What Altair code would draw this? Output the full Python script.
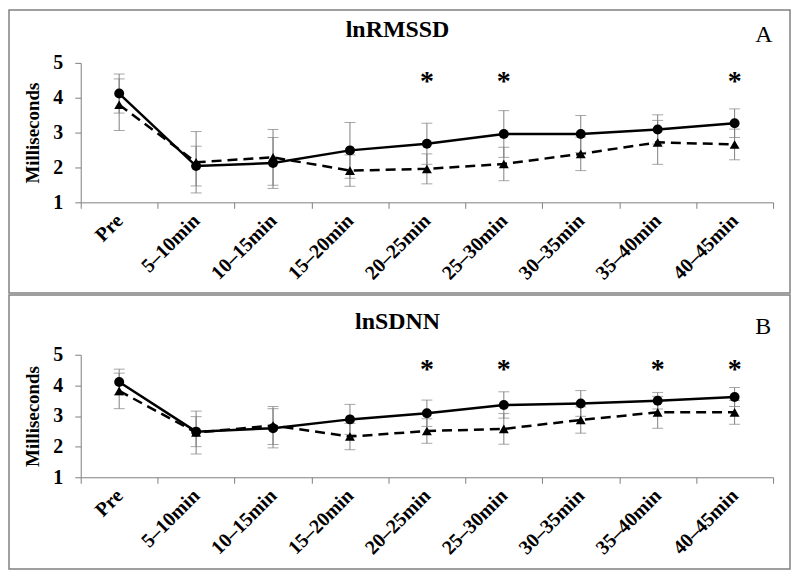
import altair as alt
import pandas as pd

CATS = ["Pre", "5–10min", "10–15min", "15–20min", "20–25min",
        "25–30min", "30–35min", "35–40min", "40–45min"]

# Panel A: lnRMSSD
A_CIRCLE_MEAN = [4.12, 2.04, 2.13, 2.49, 2.68, 2.96, 2.96, 3.09, 3.27]
A_CIRCLE_ERR = [0.56, 0.57, 0.73, 0.80, 0.59, 0.67, 0.53, 0.42, 0.41]
A_TRI_MEAN = [3.80, 2.15, 2.29, 1.91, 1.96, 2.10, 2.39, 2.72, 2.66]
A_TRI_ERR = [0.74, 0.88, 0.80, 0.45, 0.43, 0.48, 0.48, 0.63, 0.44]
A_STARS = ["20–25min", "25–30min", "40–45min"]

# Panel B: lnSDNN
B_CIRCLE_MEAN = [4.11, 2.49, 2.60, 2.89, 3.09, 3.36, 3.41, 3.50, 3.62]
B_CIRCLE_ERR = [0.42, 0.49, 0.64, 0.49, 0.43, 0.43, 0.42, 0.27, 0.31]
B_TRI_MEAN = [3.82, 2.46, 2.69, 2.33, 2.51, 2.58, 2.87, 3.12, 3.12]
B_TRI_ERR = [0.58, 0.70, 0.62, 0.43, 0.40, 0.50, 0.43, 0.52, 0.39]
B_STARS = ["20–25min", "25–30min", "35–40min", "40–45min"]

Y_TICKS = [1, 2, 3, 4, 5]

SERIF = "Liberation Serif"
GRAY = "#808080"


def make_df(cm, ce, tm, te):
    rows = []
    for i, c in enumerate(CATS):
        rows.append({"time": c, "group": "circle", "mean": cm[i],
                     "lo": cm[i] - ce[i], "hi": cm[i] + ce[i]})
        rows.append({"time": c, "group": "triangle", "mean": tm[i],
                     "lo": tm[i] - te[i], "hi": tm[i] + te[i]})
    return pd.DataFrame(rows)


def panel(df, stars, title, letter, height, frame_top, frame_bottom, star_y):
    xenc = alt.X("time:N", sort=CATS,
                 scale=alt.Scale(type="band", domain=CATS, paddingInner=0, paddingOuter=0),
                 bandPosition=0.5,
                 axis=alt.Axis(title=None, tickBand="extent", labelAngle=-45,
                               labelAlign="right", labelBaseline="middle",
                               labelFont=SERIF, labelFontWeight="bold", labelFontSize=20,
                               labelColor="black", labelPadding=9,
                               domainColor=GRAY, tickColor=GRAY, tickSize=6))
    yscale = alt.Scale(domain=[1, 5], nice=False, zero=False)
    yaxis = alt.Axis(values=Y_TICKS, title="Milliseconds", grid=False,
                     labelOverlap=False, tickCount=5,
                     titleFont=SERIF, titleFontWeight="bold", titleFontSize=19,
                     titleColor="black", titlePadding=10,
                     labelFont=SERIF, labelFontWeight="bold", labelFontSize=20,
                     labelColor="black", labelPadding=12,
                     domainColor=GRAY, tickColor=GRAY, tickSize=6)
    base = alt.Chart(df).encode(x=xenc)

    frame = alt.Chart(pd.DataFrame({"k": [0]})).mark_rect(
        fillOpacity=0, stroke=GRAY, strokeWidth=1.5
    ).encode(x=alt.value(-72), x2=alt.value(712),
             y=alt.value(frame_top), y2=alt.value(frame_bottom))

    circ = base.transform_filter(alt.datum.group == "circle")
    tri = base.transform_filter(alt.datum.group == "triangle")

    line_c = circ.mark_line(color="black", strokeWidth=2.5).encode(
        y=alt.Y("mean:Q", scale=yscale, axis=yaxis))
    line_t = tri.mark_line(color="black", strokeWidth=2.5, strokeDash=[10, 6]).encode(
        y=alt.Y("mean:Q", scale=yscale, axis=yaxis))

    err_rule = base.mark_rule(color=GRAY, strokeWidth=1).encode(
        y=alt.Y("lo:Q", scale=yscale, axis=yaxis), y2="hi:Q")
    cap_lo = base.mark_tick(color=GRAY, thickness=1, size=11, orient="horizontal").encode(
        y=alt.Y("lo:Q", scale=yscale, axis=yaxis))
    cap_hi = base.mark_tick(color=GRAY, thickness=1, size=11, orient="horizontal").encode(
        y=alt.Y("hi:Q", scale=yscale, axis=yaxis))

    pts_c = circ.mark_point(shape="circle", filled=True, color="black", size=100, opacity=1).encode(
        y=alt.Y("mean:Q", scale=yscale, axis=yaxis))
    pts_t = tri.mark_point(shape="triangle-up", filled=True, color="black", size=100, opacity=1).encode(
        y=alt.Y("mean:Q", scale=yscale, axis=yaxis))

    star_df = pd.DataFrame({"time": stars})
    star = alt.Chart(star_df).mark_text(
        text="*", font=SERIF, fontSize=28, fontWeight="bold", color="black",
        baseline="middle", dy=3
    ).encode(x=alt.X("time:N", sort=CATS, bandPosition=0.5),
             y=alt.YDatum(star_y, scale=yscale, axis=yaxis))

    t_df = pd.DataFrame({"t": [title]})
    ttl = alt.Chart(t_df).mark_text(
        font=SERIF, fontSize=24, fontWeight="bold", color="black",
        align="center", baseline="alphabetic"
    ).encode(text="t:N", x=alt.value(318), y=alt.value(-26))

    l_df = pd.DataFrame({"t": [letter]})
    let = alt.Chart(l_df).mark_text(
        font=SERIF, fontSize=24, color="black", align="left", baseline="alphabetic"
    ).encode(text="t:N", x=alt.value(677), y=alt.value(-21))

    return alt.layer(frame, line_c, line_t, err_rule, cap_lo, cap_hi, pts_c, pts_t,
                     star, ttl, let).properties(width=695, height=height)


dfA = make_df(A_CIRCLE_MEAN, A_CIRCLE_ERR, A_TRI_MEAN, A_TRI_ERR)
dfB = make_df(B_CIRCLE_MEAN, B_CIRCLE_ERR, B_TRI_MEAN, B_TRI_ERR)

pA = panel(dfA, A_STARS, "lnRMSSD", "A", 140, -53, 231, 4.54)
pB = panel(dfB, B_STARS, "lnSDNN", "B", 123, -60, 215, 4.60)

chart = alt.vconcat(pA, pB, spacing=0).resolve_scale(x="independent", y="independent").configure(
    padding={"left": 0, "top": 0, "right": 0, "bottom": 0}
).configure_view(stroke=None).configure_concat(spacing=0)

chart.save("out.html", embed_options={"renderer": "svg", "actions": False})
